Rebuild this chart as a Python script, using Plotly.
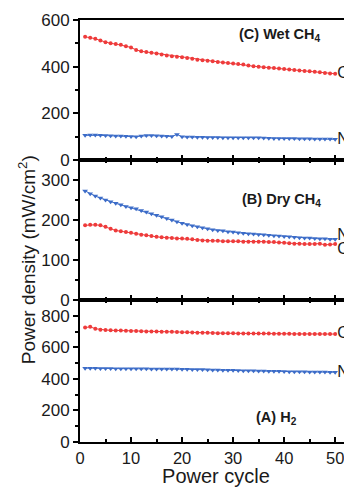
import plotly.graph_objects as go

cycles = list(range(1, 51))

# (C) Wet CH4
c_co = [528, 524, 520, 512, 505, 500, 497, 494, 488, 482, 472, 466, 463, 460, 457, 452, 448, 445, 443, 440,
        437, 434, 430, 428, 425, 423, 420, 418, 416, 414, 412, 409, 405, 402, 400, 398, 396, 394, 392, 390,
        388, 386, 384, 382, 380, 378, 376, 373, 371, 370]
c_n = [106, 107, 107, 106, 105, 104, 103, 103, 102, 101, 100, 103, 105, 105, 104, 103, 102, 101, 110, 100,
       99, 99, 98, 98, 97, 97, 97, 96, 96, 96, 96, 96, 96, 96, 96, 95, 94, 93, 93, 92,
       92, 92, 91, 91, 91, 90, 90, 90, 90, 89]

# (B) Dry CH4
b_n = [273, 266, 260, 255, 250, 246, 242, 238, 234, 231, 228, 224, 220, 216, 212, 208, 204, 200, 196, 192,
       189, 186, 183, 181, 178, 176, 174, 173, 171, 170, 168, 167, 166, 165, 164, 163, 162, 161, 160, 159,
       158, 157, 156, 155, 155, 154, 153, 153, 152, 152]
b_co = [187, 188, 188, 187, 183, 178, 174, 172, 170, 168, 166, 163, 162, 160, 158, 157, 156, 155, 154, 154,
        153, 152, 150, 149, 148, 148, 148, 147, 147, 147, 147, 146, 146, 146, 146, 146, 145, 145, 144, 143,
        142, 141, 141, 140, 140, 140, 141, 138, 139, 140]

# (A) H2
a_co = [725, 730, 718, 712, 710, 708, 707, 706, 705, 704, 703, 702, 701, 700, 700, 699, 699, 698, 697, 696,
        695, 694, 693, 693, 692, 691, 690, 690, 689, 689, 688, 688, 688, 687, 687, 687, 687, 686, 686, 686,
        686, 685, 685, 685, 685, 685, 685, 685, 684, 684]
a_n = [468, 467, 467, 466, 466, 466, 465, 465, 465, 465, 464, 464, 464, 463, 463, 463, 462, 462, 462, 461,
       461, 460, 460, 459, 458, 457, 456, 455, 455, 454, 453, 452, 452, 451, 450, 450, 449, 448, 448, 447,
       446, 446, 445, 445, 444, 444, 443, 443, 442, 442]

panel_titles = ["(A) H<sub>2</sub>", "(B) Dry CH<sub>4</sub>", "(C) Wet CH<sub>4</sub>"]
series_labels = ["Co", "N"]
x_ticks = [0, 10, 20, 30, 40, 50]

RED = "#ee3b3b"
BLUE = "#3c6cc8"
FONT = "Arial, Liberation Sans, Helvetica, sans-serif"
TXT = "#1a1a1a"

fig = go.Figure()

panels = [
    ("x", "y", a_co, a_n, 687, 440),
    ("x2", "y2", b_co, b_n, 126, 160),
    ("x3", "y3", c_co, c_n, 370, 88),
]
for xref, yref, co, n, yco, yn in panels:
    fig.add_trace(go.Scatter(x=cycles, y=co, xaxis=xref, yaxis=yref,
                             mode="lines+markers", line=dict(color=RED, width=1),
                             marker=dict(symbol="circle", size=4, color=RED), showlegend=False))
    fig.add_trace(go.Scatter(x=cycles, y=n, xaxis=xref, yaxis=yref,
                             mode="lines+markers", line=dict(color=BLUE, width=1),
                             marker=dict(symbol="triangle-down", size=5, color=BLUE), showlegend=False))
    fig.add_trace(go.Scatter(x=[50.4, 50.4], y=[yco, yn], xaxis=xref, yaxis=yref, mode="text",
                             text=series_labels, textposition="middle right", cliponaxis=False,
                             textfont=dict(family=FONT, size=16, color=TXT), showlegend=False,
                             hoverinfo="skip"))

d_a = [0, 0.3365]
d_b = [0.3365, 0.668]
d_c = [0.668, 1.0]

xcommon = dict(range=[0, 53.3], showline=True, linecolor="black", linewidth=2, ticks="inside",
               tickvals=x_ticks, ticklen=5, tickwidth=1.5, tickcolor="black", showgrid=False, zeroline=False,
               minor=dict(dtick=5, ticklen=3, tickwidth=1.5, ticks="inside", tickcolor="black"))
ycommon = dict(showline=True, linecolor="black", linewidth=2, ticks="outside", ticklen=5, tickwidth=1.5,
               tickcolor="black", showgrid=False, zeroline=False,
               tickfont=dict(family=FONT, size=17, color=TXT))

fig.update_layout(
    width=344, height=479,
    margin=dict(l=72, r=0, t=12, b=45),
    plot_bgcolor="white", paper_bgcolor="white",
    font=dict(family=FONT, color=TXT),
    xaxis=dict(**xcommon, anchor="y", mirror="ticks", showticklabels=True,
               tickfont=dict(family=FONT, size=16.5, color=TXT),
               title=dict(text="Power cycle", font=dict(family=FONT, size=20, color=TXT), standoff=1)),
    xaxis2=dict(**xcommon, anchor="y2", matches="x", mirror="ticks", showticklabels=False),
    xaxis3=dict(**xcommon, anchor="y3", matches="x", mirror=True, showticklabels=False),
    yaxis=dict(**ycommon, domain=d_a, range=[0, 900], tickvals=[0, 200, 400, 600, 800],
               minor=dict(tickvals=[100, 300, 500, 700], ticklen=3, ticks="outside", tickcolor="black")),
    yaxis2=dict(**ycommon, domain=d_b, range=[0, 350], tickvals=[0, 100, 200, 300],
                minor=dict(tickvals=[50, 150, 250], ticklen=3, ticks="outside", tickcolor="black")),
    yaxis3=dict(**ycommon, domain=d_c, range=[0, 600], tickvals=[0, 200, 400, 600],
                minor=dict(tickvals=[100, 300, 500], ticklen=3, ticks="outside", tickcolor="black")),
)

ann = []
ann.append(dict(text="<b>" + panel_titles[2] + "</b>", x=39, y=535, xref="x3", yref="y3", showarrow=False,
                font=dict(family=FONT, size=14.5, color=TXT)))
ann.append(dict(text="<b>" + panel_titles[1] + "</b>", x=39.5, y=250, xref="x2", yref="y2", showarrow=False,
                font=dict(family=FONT, size=14.5, color=TXT)))
ann.append(dict(text="<b>" + panel_titles[0] + "</b>", x=38.5, y=150, xref="x", yref="y", showarrow=False,
                font=dict(family=FONT, size=14.5, color=TXT)))
ann.append(dict(text="Power density (mW/cm<sup>2</sup>)", x=-0.195, y=0.433, xref="paper", yref="paper",
                xanchor="center", yanchor="middle",
                textangle=-90, showarrow=False, font=dict(family=FONT, size=19, color=TXT)))
fig.update_layout(annotations=ann)

fig.write_html("out.html")
